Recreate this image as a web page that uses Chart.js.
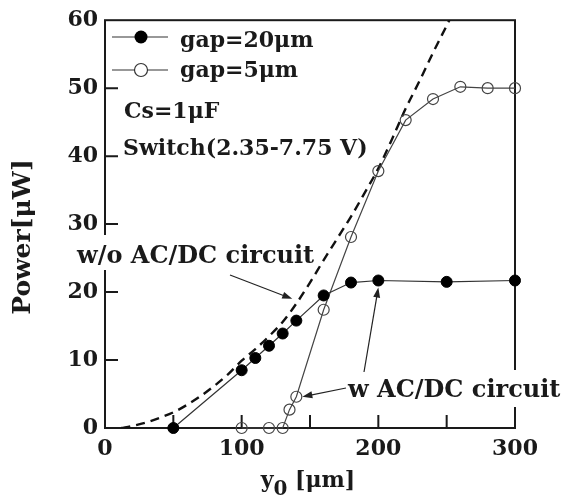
<!DOCTYPE html>
<html lang="en">
<head>
<meta charset="UTF-8">
<title>Power vs y0</title>
<script src="https://cdn.jsdelivr.net/npm/chart.js"></script>
<style>
  html, body { margin: 0; padding: 0; background: #fff; }
  #wrap { width: 562px; height: 500px; }
</style>
</head>
<body>
<div id="wrap"><canvas id="powerChart" width="562" height="500"></canvas></div>
<script>
// gap = 20 um (filled circles)
const gap20X = [50, 100, 110, 120, 130, 140, 160, 180, 200, 250, 300];
const gap20Y = [0, 8.5, 10.3, 12.1, 13.9, 15.8, 19.5, 21.4, 21.7, 21.5, 21.7];
// gap = 5 um (open circles)
const gap5X = [100, 120, 130, 135, 140, 160, 180, 200, 220, 240, 260, 280, 300];
const gap5Y = [0, 0, 0, 2.7, 4.6, 17.4, 28.1, 37.8, 45.3, 48.4, 50.2, 50.0, 50.0];
// w/o AC/DC circuit (dashed curve)
const noCircuitX = [12, 20, 30, 40, 50, 60, 70, 80, 90, 100, 110, 120, 130, 140, 150, 160, 170, 180, 190, 200, 210, 220, 230, 240, 250, 256];
const noCircuitY = [0, 0.3, 0.8, 1.5, 2.3, 3.4, 4.7, 6.2, 7.9, 9.9, 11.6, 13.5, 15.6, 18.3, 21.4, 24.7, 27.9, 31.1, 34.6, 38.2, 42.5, 47.0, 51.0, 55.2, 59.2, 61.6];

const xTicks = [0, 100, 200, 300];
const yTicks = [0, 10, 20, 30, 40, 50, 60];
const xMarks = [50, 100, 150, 200, 250];
const yMarks = [10, 20, 30, 40, 50];

const serif = '"DejaVu Serif", serif';
const ink = '#1a1a1a';

function pts(xs, ys) {
  return xs.map((v, i) => ({ x: v, y: ys[i] }));
}

function arrow(ctx, x1, y1, x2, y2) {
  const ang = Math.atan2(y2 - y1, x2 - x1);
  ctx.beginPath();
  ctx.moveTo(x1, y1);
  ctx.lineTo(x2 - 6 * Math.cos(ang), y2 - 6 * Math.sin(ang));
  ctx.stroke();
  ctx.beginPath();
  ctx.moveTo(x2, y2);
  ctx.lineTo(x2 - 10 * Math.cos(ang) + 3.5 * Math.sin(ang), y2 - 10 * Math.sin(ang) - 3.5 * Math.cos(ang));
  ctx.lineTo(x2 - 10 * Math.cos(ang) - 3.5 * Math.sin(ang), y2 - 10 * Math.sin(ang) + 3.5 * Math.cos(ang));
  ctx.closePath();
  ctx.fill();
}

// text with a white box behind it (it hides the frame where it crosses)
function boxedText(ctx, text, x, y, up, down) {
  const w = ctx.measureText(text).width;
  ctx.fillStyle = '#fff';
  ctx.fillRect(x - 2, y - up, w + 3, up + down);
  ctx.fillStyle = ink;
  ctx.fillText(text, x, y);
}

const framePlugin = {
  id: 'frame',
  beforeDatasetsDraw(chart) {
    const { ctx, chartArea: a, scales: { x, y } } = chart;
    ctx.save();
    ctx.strokeStyle = ink;
    ctx.lineWidth = 2;
    ctx.strokeRect(a.left, a.top, a.right - a.left, a.bottom - a.top);
    ctx.beginPath();
    xMarks.forEach(v => {
      const px = x.getPixelForValue(v);
      ctx.moveTo(px, a.bottom);
      ctx.lineTo(px, a.bottom - 13);
    });
    yMarks.forEach(v => {
      const py = y.getPixelForValue(v);
      ctx.moveTo(a.left, py);
      ctx.lineTo(a.left + 13, py);
    });
    ctx.stroke();
    ctx.restore();
  },
  afterDraw(chart) {
    const { ctx, scales: { x, y } } = chart;
    ctx.save();
    ctx.textBaseline = 'alphabetic';
    ctx.textAlign = 'left';
    ctx.font = 'bold 22px ' + serif;

    // legend
    ctx.strokeStyle = '#333';
    ctx.lineWidth = 1.2;
    [[37, true], [70, false]].forEach(([ly, filled]) => {
      ctx.beginPath();
      ctx.moveTo(112, ly);
      ctx.lineTo(168, ly);
      ctx.stroke();
      ctx.beginPath();
      ctx.arc(141, ly, 6.5, 0, Math.PI * 2);
      if (filled) {
        ctx.fillStyle = '#000';
        ctx.fill();
      } else {
        ctx.fillStyle = '#fff';
        ctx.fill();
        ctx.stroke();
      }
    });
    ctx.fillStyle = ink;
    ctx.fillText('gap=20μm', 180, 47);
    ctx.fillText('gap=5μm', 180, 77);
    ctx.fillText('Cs=1μF', 124, 118);
    ctx.fillText('Switch(2.35-7.75 V)', 123, 155);

    // annotations
    ctx.font = 'bold 24px ' + serif;
    boxedText(ctx, 'w/o AC/DC circuit', 77, 263, 28, 7);
    boxedText(ctx, 'w AC/DC circuit', 348, 397, 27, 10);

    ctx.strokeStyle = '#222';
    ctx.fillStyle = '#222';
    ctx.lineWidth = 1.2;
    arrow(ctx, 230, 275, x.getPixelForValue(137), y.getPixelForValue(19));
    arrow(ctx, 346, 388, x.getPixelForValue(140) + 6, y.getPixelForValue(4.6));
    arrow(ctx, 364, 372, x.getPixelForValue(200), y.getPixelForValue(21.7) + 7);

    // axis titles
    ctx.fillStyle = ink;
    const t1 = 'y', t2 = '0', t3 = ' [μm]';
    ctx.font = 'bold 22px ' + serif;
    const w1 = ctx.measureText(t1).width, w3 = ctx.measureText(t3).width;
    ctx.font = 'bold 20px ' + serif;
    const w2 = ctx.measureText(t2).width;
    let tx = 308 - (w1 + w2 + w3) / 2;
    ctx.font = 'bold 22px ' + serif;
    ctx.fillText(t1, tx, 487);
    ctx.font = 'bold 20px ' + serif;
    ctx.fillText(t2, tx + w1, 495);
    ctx.font = 'bold 22px ' + serif;
    ctx.fillText(t3, tx + w1 + w2, 487);

    ctx.translate(23, 237);
    ctx.rotate(-Math.PI / 2);
    ctx.font = 'bold 25px ' + serif;
    ctx.textAlign = 'center';
    ctx.textBaseline = 'middle';
    ctx.fillText('Power[μW]', 0, 0);
    ctx.restore();
  }
};

const ctx = document.getElementById('powerChart').getContext('2d');
const chart = new Chart(ctx, {
  type: 'scatter',
  data: {
    datasets: [
      {
        label: 'gap=20μm',
        data: pts(gap20X, gap20Y),
        showLine: true,
        borderColor: '#333',
        borderWidth: 1.2,
        pointRadius: 5.5,
        pointBackgroundColor: '#000',
        pointBorderColor: '#000',
        pointBorderWidth: 1,
        clip: false
      },
      {
        label: 'gap=5μm',
        data: pts(gap5X, gap5Y),
        showLine: true,
        borderColor: '#444',
        borderWidth: 1.2,
        pointRadius: 5.5,
        pointBackgroundColor: 'rgba(0,0,0,0)',
        pointBorderColor: '#444',
        pointBorderWidth: 1.2,
        clip: false
      },
      {
        label: 'w/o AC/DC circuit',
        data: pts(noCircuitX, noCircuitY),
        showLine: true,
        borderColor: '#111',
        borderWidth: 2.4,
        borderDash: [9, 6],
        pointRadius: 0,
        cubicInterpolationMode: 'monotone',
        clip: 0
      }
    ]
  },
  options: {
    responsive: false,
    devicePixelRatio: 1,
    animation: false,
    layout: { padding: { left: 0, top: 20, right: 47, bottom: 0 } },
    plugins: {
      legend: { display: false },
      tooltip: { enabled: false }
    },
    scales: {
      x: {
        type: 'linear',
        min: 0,
        max: 300,
        afterBuildTicks: s => { s.ticks = xTicks.map(v => ({ value: v })); },
        afterFit: s => { s.height = 72; },
        grid: { display: false, drawTicks: false },
        border: { display: false },
        ticks: { color: ink, padding: 8, maxRotation: 0, font: { family: serif, size: 22, weight: 'bold' } }
      },
      y: {
        type: 'linear',
        min: 0,
        max: 60,
        afterBuildTicks: s => { s.ticks = yTicks.map(v => ({ value: v })); },
        afterFit: s => { s.width = 105; },
        grid: { display: false, drawTicks: false },
        border: { display: false },
        ticks: { color: ink, padding: 7, font: { family: serif, size: 22, weight: 'bold' } }
      }
    }
  },
  plugins: [framePlugin]
});
</script>
</body>
</html>
